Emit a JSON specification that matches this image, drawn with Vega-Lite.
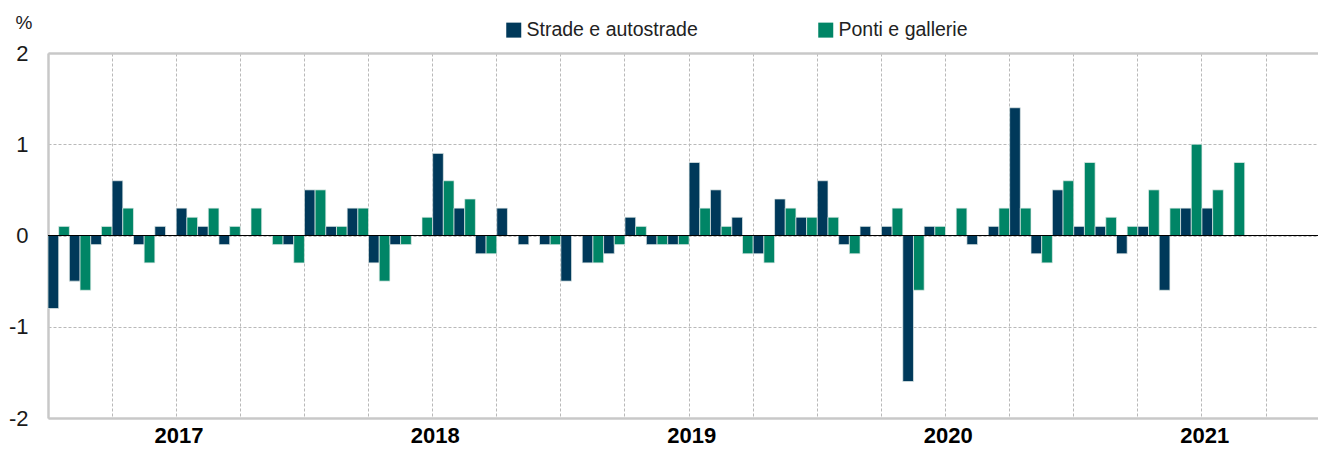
{
  "$schema": "https://vega.github.io/schema/vega-lite/v6.json",
  "width": 1270,
  "height": 365,
  "autosize": {"type": "none"},
  "padding": {"left": 48, "top": 53, "right": 0, "bottom": 35},
  "background": "#ffffff",
  "config": {"view": {"stroke": null}, "font": "Liberation Sans"},
  "datasets": {
    "s": [
      ["2017-01",-0.8,0.1],["2017-02",-0.5,-0.6],["2017-03",-0.1,0.1],["2017-04",0.6,0.3],["2017-05",-0.1,-0.3],["2017-06",0.1,0],
      ["2017-07",0.3,0.2],["2017-08",0.1,0.3],["2017-09",-0.1,0.1],["2017-10",0,0.3],["2017-11",0,-0.1],["2017-12",-0.1,-0.3],
      ["2018-01",0.5,0.5],["2018-02",0.1,0.1],["2018-03",0.3,0.3],["2018-04",-0.3,-0.5],["2018-05",-0.1,-0.1],["2018-06",0,0.2],
      ["2018-07",0.9,0.6],["2018-08",0.3,0.4],["2018-09",-0.2,-0.2],["2018-10",0.3,0],["2018-11",-0.1,0],["2018-12",-0.1,-0.1],
      ["2019-01",-0.5,0],["2019-02",-0.3,-0.3],["2019-03",-0.2,-0.1],["2019-04",0.2,0.1],["2019-05",-0.1,-0.1],["2019-06",-0.1,-0.1],
      ["2019-07",0.8,0.3],["2019-08",0.5,0.1],["2019-09",0.2,-0.2],["2019-10",-0.2,-0.3],["2019-11",0.4,0.3],["2019-12",0.2,0.2],
      ["2020-01",0.6,0.2],["2020-02",-0.1,-0.2],["2020-03",0.1,0],["2020-04",0.1,0.3],["2020-05",-1.6,-0.6],["2020-06",0.1,0.1],
      ["2020-07",0,0.3],["2020-08",-0.1,0],["2020-09",0.1,0.3],["2020-10",1.4,0.3],["2020-11",-0.2,-0.3],["2020-12",0.5,0.6],
      ["2021-01",0.1,0.8],["2021-02",0.1,0.2],["2021-03",-0.2,0.1],["2021-04",0.1,0.5],["2021-05",-0.6,0.3],["2021-06",0.3,1.0],
      ["2021-07",0.3,0.5],["2021-08",0,0.8]
    ]
  },
  "data": {"name": "s"},
  "transform": [
    {"calculate": "datum[0]", "as": "mese"},
    {"fold": ["1", "2"], "as": ["k", "valore"]},
    {"calculate": "datum.k == '1' ? 'Strade e autostrade' : 'Ponti e gallerie'", "as": "serie"}
  ],
  "layer": [
    {
      "mark": {"type": "bar", "stroke": "#e4ecea", "strokeWidth": 0.7},
      "encoding": {
        "x": {
          "field": "mese", "type": "ordinal",
          "scale": {
            "domain": ["2017-01","2017-02","2017-03","2017-04","2017-05","2017-06","2017-07","2017-08","2017-09","2017-10","2017-11","2017-12",
                       "2018-01","2018-02","2018-03","2018-04","2018-05","2018-06","2018-07","2018-08","2018-09","2018-10","2018-11","2018-12",
                       "2019-01","2019-02","2019-03","2019-04","2019-05","2019-06","2019-07","2019-08","2019-09","2019-10","2019-11","2019-12",
                       "2020-01","2020-02","2020-03","2020-04","2020-05","2020-06","2020-07","2020-08","2020-09","2020-10","2020-11","2020-12",
                       "2021-01","2021-02","2021-03","2021-04","2021-05","2021-06","2021-07","2021-08","2021-09","2021-10","2021-11"],
            "paddingInner": 0, "paddingOuter": 0.215, "align": 0
          },
          "axis": {
            "values": ["2017-01","2017-04","2017-07","2017-10","2018-01","2018-04","2018-07","2018-10","2019-01","2019-04","2019-07","2019-10",
                       "2020-01","2020-04","2020-07","2020-10","2021-01","2021-04","2021-07","2021-10"],
            "bandPosition": 0,
            "grid": true, "gridDash": [3, 2], "gridColor": "#b9b9b9", "gridWidth": 1,
            "ticks": false,
            "domain": true, "domainColor": "#c8c8c8", "domainWidth": 2.5,
            "labelExpr": "slice(datum.value, 5) == '07' ? slice(datum.value, 0, 4) : ''",
            "labelAngle": 0, "labelOverlap": false, "labelBound": false,
            "labelFontSize": 22, "labelFontWeight": "bold", "labelColor": "#000000",
            "labelBaseline": "top", "labelPadding": 7, "labelOffset": -8,
            "title": null
          }
        },
        "xOffset": {
          "field": "serie", "type": "nominal",
          "scale": {"domain": ["Strade e autostrade", "Ponti e gallerie"], "paddingInner": 0, "paddingOuter": 0}
        },
        "y": {
          "field": "valore", "type": "quantitative",
          "scale": {"domain": [-2, 2], "nice": false, "zero": false},
          "axis": {
            "values": [-2, -1, 0, 1, 2],
            "labelExpr": "'' + datum.value",
            "grid": true,
            "gridDash": {"condition": {"test": "datum.value === 2", "value": []}, "value": [3, 2]},
            "gridWidth": {"condition": {"test": "datum.value === 2", "value": 2.5}, "value": 1},
            "gridColor": {"condition": {"test": "datum.value === 2", "value": "#c8c8c8"}, "value": "#b9b9b9"},
            "ticks": false,
            "domain": true, "domainColor": "#c8c8c8", "domainWidth": 2.5,
            "labelFontSize": 22, "labelColor": "#1a1a1a", "labelPadding": 20,
            "title": "%", "titleAngle": 0, "titleFontSize": 19, "titleFontWeight": "normal", "titleColor": "#1a1a1a",
            "titleAlign": "left", "titleBaseline": "middle", "titleX": -33, "titleY": -31
          }
        },
        "color": {
          "field": "serie", "type": "nominal",
          "scale": {"domain": ["Strade e autostrade", "Ponti e gallerie"], "range": ["#00395a", "#008566"]},
          "legend": {
            "orient": "none", "legendX": 456, "legendY": -33, "direction": "horizontal",
            "title": null, "symbolType": "square", "symbolSize": 225, "symbolStrokeWidth": 0,
            "labelFontSize": 19.5, "labelColor": "#222222", "labelOffset": 3, "labelLimit": 400,
            "columnPadding": 118
          }
        }
      }
    },
    {
      "mark": {"type": "rule", "color": "#000000", "strokeWidth": 1},
      "encoding": {"y": {"datum": 0}}
    }
  ]
}
